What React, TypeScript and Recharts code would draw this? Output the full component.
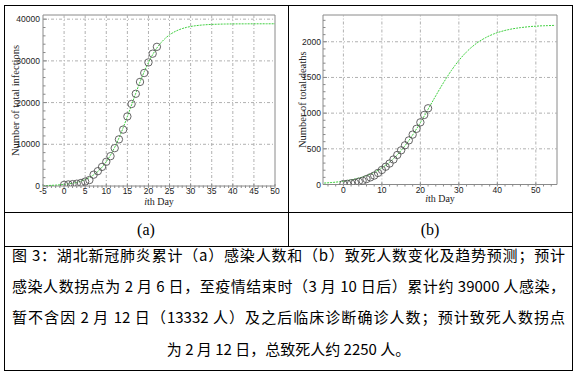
import React from 'react';
import { ComposedChart, Line, Scatter, XAxis, YAxis, ReferenceLine, ReferenceArea } from 'recharts';

// Observed data (day 0 .. 22)
const obsDays = [0, 1, 2, 3, 4, 5, 6, 7, 8, 9, 10, 11, 12, 13, 14, 15, 16, 17, 18, 19, 20, 21, 22];
const obsInfections = [270, 375, 444, 549, 729, 1052, 1423, 2714, 3554, 4586, 5806, 7153, 9074, 11177, 13522, 16678, 19665, 22112, 24953, 27100, 29631, 31728, 33366];
const obsDeaths = [6, 9, 17, 24, 39, 52, 76, 100, 125, 162, 204, 249, 294, 350, 414, 479, 549, 618, 699, 780, 871, 974, 1068];

// Fitted / predicted curves
const fitDaysA = [-5, -4, -3, -2, -1, 0, 1, 2, 3, 4, 5, 6, 7, 8, 9, 10, 11, 12, 13, 14, 15, 16, 17, 18, 19, 20, 21, 22, 23, 24, 25, 26, 27, 28, 29, 30, 31, 32, 33, 34, 35, 36, 37, 38, 39, 40, 41, 42, 43, 44, 45, 46, 47, 48, 49, 50];
const fitInfections = [88, 117, 157, 209, 280, 372, 496, 659, 876, 1164, 1538, 2029, 2664, 3480, 4517, 5806, 7395, 9284, 11485, 13963, 16652, 19450, 22254, 24936, 27413, 29617, 31506, 33092, 34385, 35419, 36237, 36872, 37361, 37737, 38023, 38240, 38405, 38528, 38621, 38691, 38743, 38782, 38811, 38832, 38848, 38860, 38869, 38875, 38880, 38884, 38887, 38889, 38891, 38893, 38894, 38895];
const fitDaysB = [-5, -4, -3, -2, -1, 0, 1, 2, 3, 4, 5, 6, 7, 8, 9, 10, 11, 12, 13, 14, 15, 16, 17, 18, 19, 20, 21, 22, 23, 24, 25, 26, 27, 28, 29, 30, 31, 32, 33, 34, 35, 36, 37, 38, 39, 40, 41, 42, 43, 44, 45, 46, 47, 48, 49, 50, 51, 52, 53, 54, 55];
const fitDeaths = [20, 24, 28, 33, 39, 46, 55, 64, 76, 90, 105, 124, 145, 170, 199, 232, 270, 312, 361, 416, 477, 543, 616, 695, 779, 867, 959, 1054, 1149, 1243, 1336, 1426, 1512, 1593, 1668, 1738, 1801, 1858, 1909, 1954, 1994, 2028, 2059, 2085, 2108, 2128, 2144, 2159, 2171, 2182, 2190, 2198, 2204, 2210, 2215, 2218, 2222, 2224, 2226, 2228, 2230];

// Axis ticks
const xMajorA = [-5, 0, 5, 10, 15, 20, 25, 30, 35, 40, 45, 50];
const yMajorA = [0, 10000, 20000, 30000, 40000];
const xMajorB = [0, 10, 20, 30, 40, 50];
const yMajorB = [0, 500, 1000, 1500, 2000];

const captionLines = [
  '图 3：湖北新冠肺炎累计（a）感染人数和（b）致死人数变化及趋势预测；预计',
  '感染人数拐点为 2 月 6 日，至疫情结束时（3 月 10 日后）累计约 39000 人感染，',
  '暂不含因 2 月 12 日（13332 人）及之后临床诊断确诊人数；预计致死人数拐点',
  '为 2 月 12 日，总致死人约 2250 人。',
];

const range = (a: number, b: number, s: number) => {
  const out: number[] = [];
  for (let v = a; v <= b + 1e-9; v += s) out.push(Math.round(v * 1000) / 1000);
  return out;
};

const obsA = obsDays.map((d, i) => ({ day: d, value: obsInfections[i] }));
const obsB = obsDays.map((d, i) => ({ day: d, value: obsDeaths[i] }));
const fitA = fitDaysA.map((d, i) => ({ day: d, value: fitInfections[i] }));
const fitB = fitDaysB.map((d, i) => ({ day: d, value: fitDeaths[i] }));

const TICK_FONT = 'Liberation Sans, Arial, sans-serif';
const LABEL_FONT = 'Liberation Serif, Times New Roman, serif';
const FRAME = '#8a8a8a';
const GRID = '#b0b0b0';
const CURVE = '#3fcf3f';

const makeYTick = (majors: number[], margin: number) => (props: any) => {
  const { x, y, payload } = props;
  const v = payload.value;
  const major = majors.includes(v);
  const ax = x + margin;
  return (
    <g>
      <line x1={ax} x2={ax + (major ? 4 : 2.5)} y1={y} y2={y} stroke={FRAME} strokeWidth={1} />
      {major && (
        <text x={x} y={y} dy={3} textAnchor="end" fontSize={8.5} fill="#222" fontFamily={TICK_FONT}>
          {v}
        </text>
      )}
    </g>
  );
};

const makeXTick = (majors: number[]) => (props: any) => {
  const { x, y, payload } = props;
  const v = payload.value;
  const major = majors.includes(v);
  return (
    <g>
      <line x1={x} x2={x} y1={y} y2={y - (major ? 4 : 2.5)} stroke={FRAME} strokeWidth={1} />
      {major && (
        <text x={x} y={y} dy={6} textAnchor="middle" fontSize={8.5} fill="#222" fontFamily={TICK_FONT}>
          {v}
        </text>
      )}
    </g>
  );
};

const circleShape = (p: any) => (
  <circle cx={p.cx} cy={p.cy} r={3.7} fill="none" stroke="#555" strokeWidth={0.9} />
);

const yLabel = (text: string, dx: number) => (props: any) => {
  const vb = props.viewBox;
  const cx = vb.x + dx;
  const cy = vb.y + vb.height / 2;
  return (
    <text
      x={cx}
      y={cy}
      transform={`rotate(-90 ${cx} ${cy})`}
      textAnchor="middle"
      dominantBaseline="central"
      fontSize={10.5}
      fill="#222"
      fontFamily={LABEL_FONT}
    >
      {text}
    </text>
  );
};

const xLabel = (dy: number) => (props: any) => {
  const vb = props.viewBox;
  const cx = vb.x + vb.width / 2;
  return (
    <text x={cx} y={vb.y + dy} textAnchor="middle" fontSize={10} fill="#222" fontFamily={LABEL_FONT}>
      <tspan fontStyle="italic">i</tspan>th Day
    </text>
  );
};

function ChartA() {
  const xDomain: [number, number] = [-5, 50];
  const yDomain: [number, number] = [0, 41000];
  return (
    <ComposedChart width={288} height={212} margin={{ top: 15, right: 13, bottom: 0, left: 0 }}>
      <XAxis
        type="number"
        dataKey="day"
        domain={xDomain}
        allowDataOverflow
        ticks={range(-5, 50, 1)}
        interval={0}
        tickSize={0}
        tickLine={false}
        axisLine={false}
        tick={makeXTick(xMajorA)}
        height={26}
        label={xLabel(18.5)}
      />
      <YAxis
        type="number"
        domain={yDomain}
        allowDataOverflow
        ticks={range(0, 40000, 2000)}
        interval={0}
        tickSize={0}
        tickMargin={3}
        tickLine={false}
        axisLine={false}
        tick={makeYTick(yMajorA, 3)}
        width={43}
        label={yLabel('Number of total infections', 15)}
      />
      {xMajorA.filter((v) => v > -5 && v < 50).map((v) => (
        <ReferenceLine key={'gx' + v} x={v} stroke={GRID} strokeDasharray="3 2 1 2" />
      ))}
      {yMajorA.filter((v) => v > 0).map((v) => (
        <ReferenceLine key={'gy' + v} y={v} stroke={GRID} strokeDasharray="3 2 1 2" />
      ))}
      <ReferenceArea x1={-5} x2={50} y1={0} y2={41000} fill="none" fillOpacity={0} stroke={FRAME} strokeWidth={1} ifOverflow="visible" />
      <Line data={fitA} dataKey="value" type="monotone" stroke={CURVE} strokeWidth={1} strokeDasharray="2 1" dot={false} activeDot={false} isAnimationActive={false} />
      <Scatter data={obsA} dataKey="value" shape={circleShape} isAnimationActive={false} />
    </ComposedChart>
  );
}

function ChartB() {
  const xDomain: [number, number] = [-5.3, 55.5];
  const yDomain: [number, number] = [0, 2375];
  return (
    <ComposedChart width={288} height={212} margin={{ top: 15, right: 19, bottom: 0, left: 0 }}>
      <XAxis
        type="number"
        dataKey="day"
        domain={xDomain}
        allowDataOverflow
        ticks={range(-4, 54, 2)}
        interval={0}
        tickSize={0}
        tickLine={false}
        axisLine={false}
        tick={makeXTick(xMajorB)}
        height={27.5}
        label={xLabel(17)}
      />
      <YAxis
        type="number"
        domain={yDomain}
        allowDataOverflow
        ticks={range(0, 2300, 100)}
        interval={0}
        tickSize={0}
        tickMargin={2}
        tickLine={false}
        axisLine={false}
        tick={makeYTick(yMajorB, 2)}
        width={35}
        label={yLabel('Number of total deaths', 14)}
      />
      {xMajorB.map((v) => (
        <ReferenceLine key={'gx' + v} x={v} stroke={GRID} strokeDasharray="3 2 1 2" />
      ))}
      {yMajorB.filter((v) => v > 0).map((v) => (
        <ReferenceLine key={'gy' + v} y={v} stroke={GRID} strokeDasharray="3 2 1 2" />
      ))}
      <ReferenceArea x1={-5.3} x2={55.5} y1={0} y2={2375} fill="none" fillOpacity={0} stroke={FRAME} strokeWidth={1} ifOverflow="visible" />
      <Line data={fitB} dataKey="value" type="monotone" stroke={CURVE} strokeWidth={1} strokeDasharray="2 1" dot={false} activeDot={false} isAnimationActive={false} />
      <Scatter data={obsB} dataKey="value" shape={circleShape} isAnimationActive={false} />
    </ComposedChart>
  );
}

const line = (style: React.CSSProperties) => (
  <div style={{ position: 'absolute', background: '#000', ...style }} />
);

export default function App() {
  const captionTops = [255, 286, 317, 349];
  return (
    <div style={{ position: 'absolute', left: 0, top: 0, width: 578, height: 377, background: '#fff', overflow: 'hidden' }}>
      <div style={{ position: 'absolute', left: 0, top: 0 }}>
        <ChartA />
      </div>
      <div style={{ position: 'absolute', left: 288, top: 0 }}>
        <ChartB />
      </div>
      {/* table borders */}
      {line({ left: 4, top: 5, width: 569, height: 1 })}
      {line({ left: 4, top: 370, width: 569, height: 1 })}
      {line({ left: 4, top: 5, width: 1, height: 366 })}
      {line({ left: 572, top: 5, width: 1, height: 366 })}
      {line({ left: 288, top: 5, width: 1, height: 242 })}
      {line({ left: 4, top: 212, width: 569, height: 1 })}
      {line({ left: 4, top: 246, width: 569, height: 1 })}
      {/* sub labels */}
      <div style={{ position: 'absolute', left: 4, width: 284, top: 220, height: 20, lineHeight: '20px', textAlign: 'center', fontFamily: LABEL_FONT, fontSize: 16, color: '#000' }}>(a)</div>
      <div style={{ position: 'absolute', left: 288, width: 284, top: 220, height: 20, lineHeight: '20px', textAlign: 'center', fontFamily: LABEL_FONT, fontSize: 16, color: '#000' }}>(b)</div>
      {/* caption */}
      {captionLines.map((t, i) => (
        <div
          key={i}
          style={{
            position: 'absolute',
            left: 12,
            width: 553,
            top: captionTops[i] - 10,
            height: 20,
            lineHeight: '20px',
            fontFamily: '"Noto Sans CJK SC", sans-serif',
            fontSize: 15,
            color: '#000',
            textAlign: i === captionLines.length - 1 ? 'center' : 'justify',
            textAlignLast: i === captionLines.length - 1 ? 'center' : 'justify',
            whiteSpace: 'normal',
          }}
        >
          {t}
        </div>
      ))}
    </div>
  );
}
